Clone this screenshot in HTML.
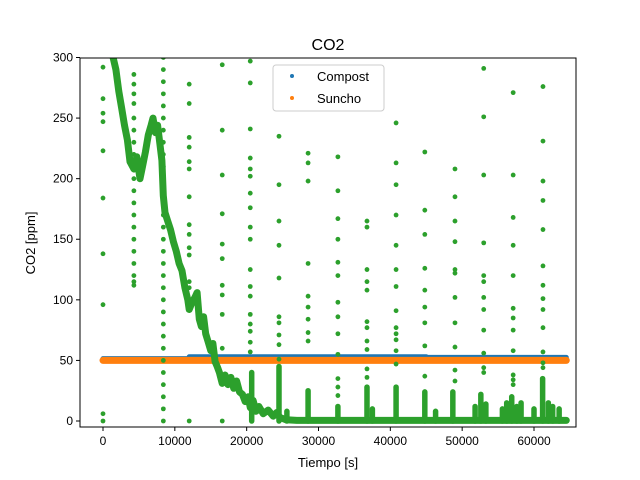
<!DOCTYPE html>
<html><head><meta charset="utf-8"><style>
body{margin:0;background:#fff}
svg{display:block;font-family:"Liberation Sans","DejaVu Sans",sans-serif}
</style></head><body>
<svg id="chart" width="640" height="480" viewBox="0 0 640 480">
<rect width="640" height="480" fill="#fff"/>
<text x="328" y="50" font-size="16" text-anchor="middle">CO2</text>
<defs><clipPath id="pc"><rect x="80" y="58" width="496" height="369"/></clipPath></defs>
<g id="plot" clip-path="url(#pc)"></g>
<g id="axes"></g>
<text x="328" y="467" font-size="13" text-anchor="middle">Tiempo [s]</text>
<text transform="translate(35,243) rotate(-90)" font-size="13" text-anchor="middle">CO2 [ppm]</text>
<g>
<rect x="273" y="65" width="111" height="46" rx="3" fill="#fff" stroke="#ccc"/>
<circle cx="292" cy="76" r="2" fill="#1f77b4"/>
<text x="317" y="81" font-size="13">Compost</text>
<circle cx="292" cy="98" r="2" fill="#ff7f0e"/>
<text x="317" y="103" font-size="13">Suncho</text>
</g>
</svg>
<script>
const xTicks=[0,10000,20000,30000,40000,50000,60000];
const yTicks=[0,50,100,150,200,250,300];
const compostT=[0,12000,12000,45000,45000,64500];
const compostV=[51.5,51.5,53,53,52.5,52.5];
const sunchoT=[0,64500];
const sunchoV=[50,50];
const curveT=[1400,1800,2200,2600,3000,3400,3760,4300,4700,5150,5500,5900,6300,6700,6960,7300,7600,7940,8200,8400,8630,9000,9400,9800,10200,10600,11000,11400,11800,12000,12400,12800,13100,13400,13700,14000,14300,14600,15000,15300,15600,15900,16200,16600,17000,17400,17800,18200,18600,19000,19400,19800,20200,20500,20900,21300,21700,22300,23000,23700,24200,24600,25500,27000,64500];
const curveV=[300,290,272,258,244,232,214,208,218,200,210,222,236,244,250,238,244,228,215,186,172,165,158,148,140,130,124,110,100,92,98,102,106,84,78,86,72,66,58,64,49,45,40,31,38,30,36,27,33,24,22,16,20,11,17,8,12,6,9,4,7,3,1,0.5,0.5];
const burstT=[20700,24500,25600,28550,32700,36750,37500,40800,44800,46300,48700,51800,52600,53300,55600,56200,56900,57600,58200,60000,61200,62000,62600,63500];
const burstV=[40,45,8,25,12,28,10,28,24,8,24,12,22,14,10,15,20,12,15,10,35,15,12,10];
const spikeT=[0,4300,8400,12000,16600,20500,24500,28550,32700,36750,40800,44800,49000,53000,57100,61250];
const spikeV=[
[292,266,254,247,223,184,138,96,6,0],
[286,278,270,262,250,240,230,220,200,190,180,170,160,150,140,130,120,115,112],
[300,290,280,270,260,250,240,230,220,210,200,190,180,170,160,150,140,130,120,110,100,90,80,70,60,50,40,30,20,10,0],
[278,262,234,226,214,208,185,162,154,143,137,115,110,0],
[294,240,203,171,146,134,112,104,88,60,32,0],
[297,279,241,217,208,202,188,176,160,150,125,111,103,88,80,74,65,57],
[235,195,165,145,118,86,81,71,63,51],
[221,213,198,130,103,94,84,73,66],
[218,190,167,150,131,120,98,86,72,55,35,28,21],
[165,160,125,115,108,82,77,66,59,43,36],
[246,213,195,170,145,125,111,91,77,72,67,58,47],
[222,174,154,126,108,94,81,62,37],
[208,185,165,148,125,122,102,81,61,42,33],
[291,251,203,147,120,115,102,92,75,56,44,40],
[271,203,168,145,120,93,85,75,58,38,34,30],
[276,231,198,182,158,128,112,101,92,77,57,48,44]];
const NS='http://www.w3.org/2000/svg';
const xs=t=>103+t*431/60000;
const ys=v=>421-v*1.2117;
const plot=document.getElementById('plot'),axes=document.getElementById('axes');
function mk(tag,at,parent){const e=document.createElementNS(NS,tag);for(const k in at)e.setAttribute(k,at[k]);parent.appendChild(e);return e;}
function line(T,V,color,w,name){
  let d='';T.forEach((t,i)=>{d+=(i?'L':'M')+xs(t).toFixed(1)+' '+ys(V[i]).toFixed(1);});
  const p=mk('path',{d:d,fill:'none',stroke:color,'stroke-width':w,'stroke-linejoin':'round','stroke-linecap':'round'},plot);
  
  
}
line(compostT,compostV,'#1f77b4',5,'compost-series');
line(sunchoT,sunchoV,'#ff7f0e',7,'suncho-series');
line(curveT,curveV,'#2ca02c',7,'green-main-curve');
burstT.forEach((t,i)=>{
  const l=mk('line',{x1:xs(t),x2:xs(t),y1:ys(0),y2:ys(burstV[i]),stroke:'#2ca02c','stroke-width':5.5,'stroke-linecap':'round'},plot);
  
  
});
spikeT.forEach((t,i)=>{spikeV[i].forEach(v=>{
  const c=mk('circle',{cx:xs(t),cy:ys(v),r:2.4,fill:'#2ca02c'},plot);
  
  
});});
const fr=mk('rect',{x:80,y:58,width:496,height:369,fill:'none',stroke:'#000','stroke-width':1},axes);


xTicks.forEach(t=>{
  const x=xs(t);
  mk('line',{x1:x,x2:x,y1:427,y2:431,stroke:'#000'},axes);
  const tx=mk('text',{x:x,y:445,'font-size':12,'text-anchor':'middle'},axes);
  tx.textContent=String(t);
  
  
});
yTicks.forEach(v=>{
  const y=ys(v);
  mk('line',{x1:76,x2:80,y1:y,y2:y,stroke:'#000'},axes);
  const tx=mk('text',{x:73,y:y+4,'font-size':12,'text-anchor':'end'},axes);
  tx.textContent=String(v);
  
  
});
</script>
</body></html>
